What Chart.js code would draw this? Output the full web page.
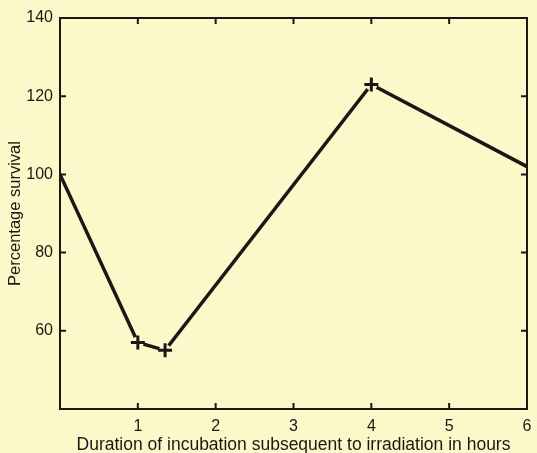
<!DOCTYPE html>
<html>
<head>
<meta charset="utf-8">
<script src="https://cdn.jsdelivr.net/npm/chart.js@4/dist/chart.umd.min.js"></script>
<style>
    html, body { margin: 0; padding: 0; background: #fdf8ca; }
    #wrap { width: 537px; height: 453px; }
</style>
</head>
<body>
<div id="wrap"><canvas id="survivalChart"></canvas></div>
<script>
// hours of incubation after irradiation, and percentage survival
const hours = [0, 1, 1.35, 4, 6];
const survival = [100, 57, 55, 123, 102];
// which readings carry a "+" marker
const marked = [false, true, true, true, false];

const xTicks = [1, 2, 3, 4, 5, 6];
const yTicks = [60, 80, 100, 120, 140];

const INK = '#1a1814';
const PAPER = '#fdf8ca';
const FONT = "'Liberation Sans', Arial, sans-serif";

const points = hours.map((h, i) => ({ x: h, y: survival[i] }));
const markedPoints = points.filter((p, i) => marked[i]);

// frame on all four sides with short inward tick marks
const framePlugin = {
    id: 'frame',
    afterDatasetsDraw(chart) {
        const { ctx, chartArea: a, scales: { x, y } } = chart;
        const len = 6;
        ctx.save();
        ctx.strokeStyle = INK;
        ctx.lineWidth = 2;
        ctx.strokeRect(a.left, a.top, a.right - a.left, a.bottom - a.top);
        ctx.beginPath();
        xTicks.slice(0, -1).forEach(v => {
            const px = x.getPixelForValue(v);
            ctx.moveTo(px, a.bottom); ctx.lineTo(px, a.bottom - len);
            ctx.moveTo(px, a.top); ctx.lineTo(px, a.top + len);
        });
        yTicks.slice(0, -1).forEach(v => {
            const py = y.getPixelForValue(v);
            ctx.moveTo(a.left, py); ctx.lineTo(a.left + len, py);
            ctx.moveTo(a.right, py); ctx.lineTo(a.right - len, py);
        });
        ctx.stroke();
        ctx.restore();
    }
};

new Chart(document.getElementById('survivalChart'), {
    type: 'scatter',
    data: {
        datasets: [
            {
                // crosses drawn on top
                data: markedPoints,
                showLine: false,
                pointStyle: 'cross',
                pointRadius: 7,
                borderColor: INK,
                borderWidth: 3
            },
            {
                // small paper-coloured patch so the line stops short of each cross
                data: markedPoints,
                showLine: false,
                pointStyle: 'circle',
                pointRadius: 6,
                backgroundColor: PAPER,
                borderWidth: 0
            },
            {
                data: points,
                showLine: true,
                borderColor: INK,
                borderWidth: 3.5,
                pointRadius: 0,
                tension: 0
            }
        ]
    },
    options: {
        responsive: true,
        maintainAspectRatio: false,
        animation: false,
        layout: { padding: { top: 18, right: 7, left: 0, bottom: 0 } },
        plugins: { legend: { display: false }, tooltip: { enabled: false } },
        scales: {
            x: {
                type: 'linear',
                min: 0,
                max: 6,
                afterBuildTicks: s => { s.ticks = xTicks.map(v => ({ value: v })); },
                afterFit: s => { s.height = 44; s.paddingRight = 0; s.paddingLeft = 0; },
                grid: { display: false, drawTicks: false },
                border: { display: false },
                ticks: { color: INK, font: { family: FONT, size: 16 }, padding: 8 },
                title: {
                    display: true,
                    text: 'Duration of incubation subsequent to irradiation in hours',
                    color: INK,
                    font: { family: FONT, size: 17.5 },
                    padding: { top: 0, bottom: -3 }
                }
            },
            y: {
                min: 40,
                max: 140,
                afterBuildTicks: s => { s.ticks = yTicks.map(v => ({ value: v })); },
                afterFit: s => { s.width = 60; },
                grid: { display: false, drawTicks: false },
                border: { display: false },
                ticks: { color: INK, font: { family: FONT, size: 16 }, padding: 7 },
                title: {
                    display: true,
                    text: 'Percentage survival',
                    color: INK,
                    font: { family: FONT, size: 16.5 },
                    padding: { top: 6, bottom: 0 }
                }
            }
        }
    },
    plugins: [framePlugin]
});
</script>
</body>
</html>
